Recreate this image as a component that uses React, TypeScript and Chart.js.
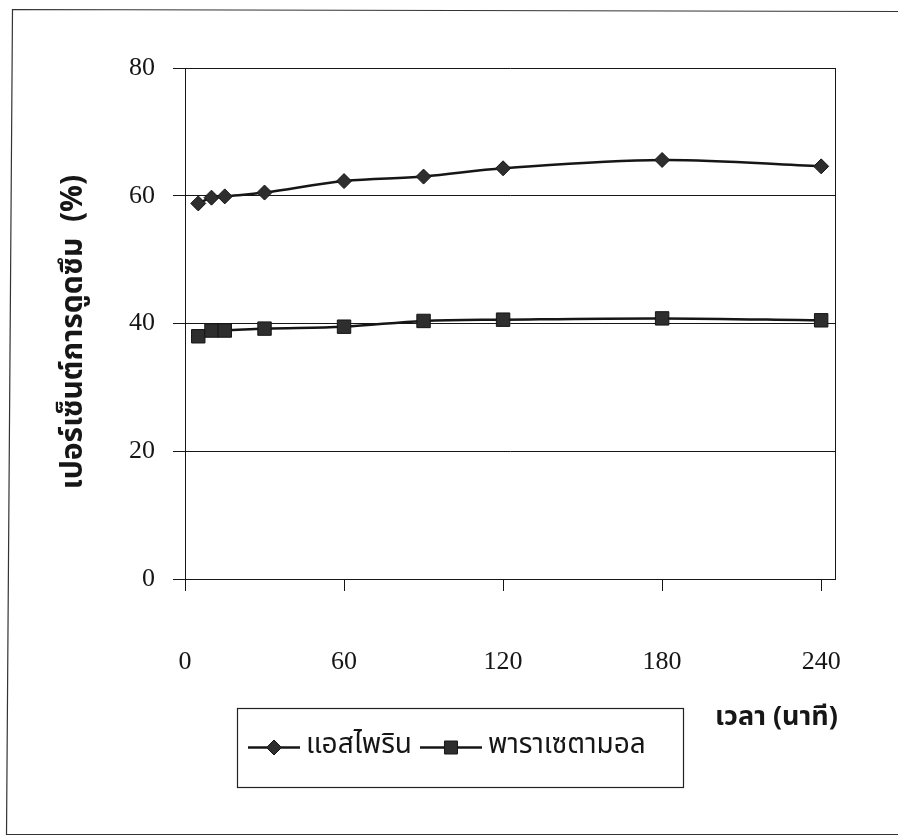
import { useEffect, useRef } from "react";
import { Chart, registerables } from "chart.js";

Chart.register(...registerables);

// Sampling times (minutes) and percent absorbed for each drug
const timeMinutes = [5, 10, 15, 30, 60, 90, 120, 180, 240];
const aspirin = [58.8, 59.7, 59.9, 60.5, 62.3, 63.0, 64.3, 65.6, 64.6];
const paracetamol = [38.0, 38.9, 38.9, 39.2, 39.5, 40.4, 40.6, 40.8, 40.5];

const xTicks = [0, 60, 120, 180, 240];
const yTicks = [0, 20, 40, 60, 80];

const seriesNames = ["แอสไพริน", "พาราเซตามอล"];
const xTitle = "เวลา (นาที)";
const yTitle = "เปอร์เซ็นต์การดูดซึม  (%)";

const W = 898;
const H = 837;
const INK = "#161616";
const MARK = "#2e2e2e";
const SERIF = '"Liberation Serif", "Times New Roman", serif';
const THAI = '"Noto Sans Thai", "Noto Serif Thai", "Noto Looped Thai", Loma, Garuda, Norasi, sans-serif';

function marker(ctx: CanvasRenderingContext2D, kind: "diamond" | "square", x: number, y: number) {
  ctx.save();
  ctx.fillStyle = MARK;
  ctx.strokeStyle = INK;
  ctx.lineWidth = 1;
  ctx.beginPath();
  if (kind === "diamond") {
    const r = 7.5;
    ctx.moveTo(x, y - r);
    ctx.lineTo(x + r, y);
    ctx.lineTo(x, y + r);
    ctx.lineTo(x - r, y);
    ctx.closePath();
  } else {
    const s = 6.5;
    ctx.rect(x - s, y - s, 2 * s, 2 * s);
  }
  ctx.fill();
  ctx.stroke();
  ctx.restore();
}

const decor = {
  id: "decor",
  beforeDraw(chart: Chart) {
    const ctx = chart.ctx;
    ctx.save();
    ctx.fillStyle = "#ffffff";
    ctx.fillRect(0, 0, W, H);
    // page frame around the figure
    ctx.strokeStyle = "#333";
    ctx.lineWidth = 1.2;
    ctx.beginPath();
    ctx.moveTo(W + 5, 11.5);
    ctx.lineTo(12.5, 9.5);
    ctx.lineTo(6.5, 834.5);
    ctx.lineTo(W + 5, 834.5);
    ctx.stroke();
    ctx.restore();
  },
  beforeDatasetsDraw(chart: Chart) {
    const { ctx, chartArea } = chart;
    ctx.save();
    ctx.strokeStyle = INK;
    ctx.lineWidth = 1;
    ctx.beginPath();
    ctx.moveTo(Math.round(chartArea.right) + 0.5, chartArea.top);
    ctx.lineTo(Math.round(chartArea.right) + 0.5, chartArea.bottom);
    ctx.stroke();
    ctx.restore();
  },
  afterDraw(chart: Chart) {
    const ctx = chart.ctx;
    ctx.save();

    // y-axis title
    ctx.fillStyle = INK;
    ctx.font = `bold 30px ${THAI}`;
    ctx.textAlign = "center";
    ctx.textBaseline = "middle";
    ctx.save();
    ctx.translate(76, 332);
    ctx.rotate(-Math.PI / 2);
    ctx.fillText(yTitle, 0, 0);
    ctx.restore();

    // x-axis title
    ctx.textAlign = "left";
    ctx.font = `bold 27px ${THAI}`;
    ctx.fillText(xTitle, 715, 720);

    // legend box
    const bx = 237, by = 708, bw = 446, bh = 79;
    ctx.strokeStyle = "#222";
    ctx.lineWidth = 1.2;
    ctx.strokeRect(bx + 0.5, by + 0.5, bw, bh);

    const cy = by + bh / 2;
    ctx.font = `28px ${THAI}`;
    ctx.textBaseline = "middle";
    const kinds: ("diamond" | "square")[] = ["diamond", "square"];
    let x = 248;
    seriesNames.forEach((name, i) => {
      const len = i === 0 ? 52 : 62;
      ctx.strokeStyle = INK;
      ctx.lineWidth = 2.5;
      ctx.beginPath();
      ctx.moveTo(x, cy);
      ctx.lineTo(x + len, cy);
      ctx.stroke();
      marker(ctx, kinds[i], x + len / 2, cy);
      ctx.fillStyle = INK;
      ctx.fillText(name, x + len + 6, cy);
      x = x + len + 6 + ctx.measureText(name).width + 8;
    });
    ctx.restore();
  },
};

export default function App() {
  const ref = useRef<HTMLCanvasElement | null>(null);

  useEffect(() => {
    if (!ref.current) return;
    const pts = (ys: number[]) => timeMinutes.map((t, i) => ({ x: t, y: ys[i] }));
    const tickFont = { family: SERIF, size: 26 };

    const chart = new Chart(ref.current, {
      type: "line",
      data: {
        datasets: [
          {
            label: seriesNames[0],
            data: pts(aspirin),
            borderColor: INK,
            borderWidth: 2.5,
            tension: 0.35,
            pointStyle: "rectRot",
            pointRadius: 7.5,
            pointBackgroundColor: MARK,
            pointBorderColor: INK,
            pointBorderWidth: 1,
          },
          {
            label: seriesNames[1],
            data: pts(paracetamol),
            borderColor: INK,
            borderWidth: 2.5,
            tension: 0.35,
            pointStyle: "rect",
            pointRadius: 9.5,
            pointBackgroundColor: MARK,
            pointBorderColor: INK,
            pointBorderWidth: 1,
          },
        ],
      },
      options: {
        responsive: false,
        animation: false,
        devicePixelRatio: 1,
        layout: { padding: { top: 68, right: 62, left: 0, bottom: 0 } },
        plugins: { legend: { display: false }, tooltip: { enabled: false } },
        scales: {
          x: {
            type: "linear",
            min: 0,
            max: 245.3,
            afterBuildTicks: (s: any) => {
              s.ticks = xTicks.map((v) => ({ value: v }));
            },
            afterFit: (s: any) => {
              s.height = H - 579;
            },
            grid: { drawOnChartArea: false, drawTicks: true, tickLength: 12, color: INK, lineWidth: 1 },
            border: { display: true, color: INK, width: 1 },
            ticks: { padding: 56, font: tickFont, color: INK, maxRotation: 0, autoSkip: false },
          },
          y: {
            type: "linear",
            min: 0,
            max: 80,
            afterBuildTicks: (s: any) => {
              s.ticks = yTicks.map((v) => ({ value: v }));
            },
            afterFit: (s: any) => {
              s.width = 185;
            },
            grid: { drawOnChartArea: true, drawTicks: true, tickLength: 12, color: INK, lineWidth: 1 },
            border: { display: true, color: INK, width: 1 },
            ticks: { padding: 18, font: tickFont, color: INK },
          },
        },
      },
      plugins: [decor],
    });
    return () => chart.destroy();
  }, []);

  return (
    <div style={{ position: "fixed", left: 0, top: 0, width: W, height: H, background: "#fff" }}>
      <canvas ref={ref} width={W} height={H} style={{ width: W, height: H, display: "block" }} />
    </div>
  );
}
